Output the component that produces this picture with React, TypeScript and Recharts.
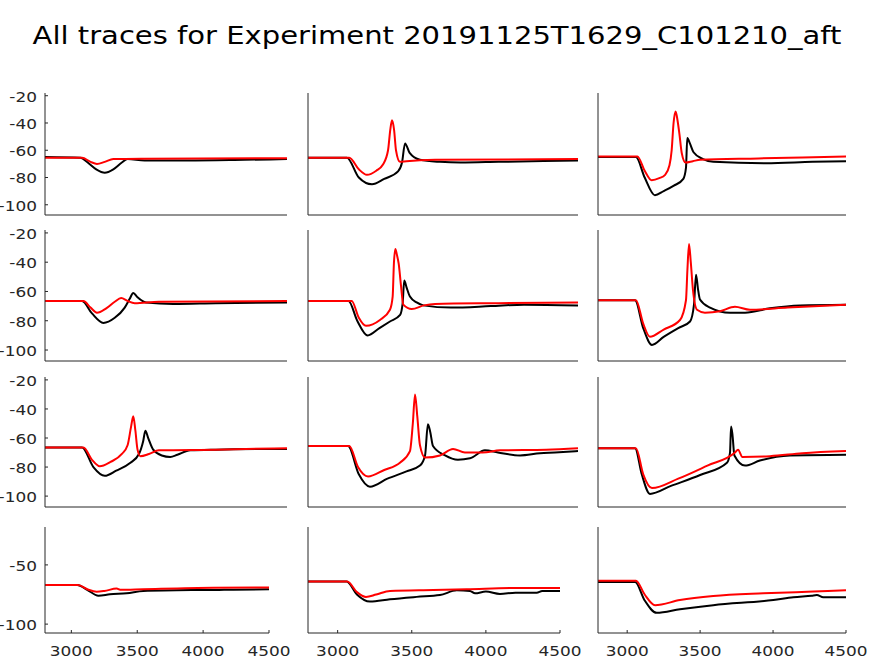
import React from 'react';
import { LineChart, Line, XAxis, YAxis } from 'recharts';

// trace samples [time, mV], one pair of arrays per subplot
const r1c1Black = [[2800, -65], [3050, -65.5], [3100, -69], [3160, -74], [3220, -76.5], [3280, -74], [3340, -69], [3380, -66.5], [3500, -67.5], [3800, -67.5], [4200, -67], [4500, -66.5]];
const r1c1Red = [[2800, -65.5], [3060, -65.5], [3120, -68.5], [3165, -70], [3220, -68.5], [3280, -66.5], [3500, -66.2], [4500, -65.8]];

const r1c2Black = [[2800, -65.5], [3045, -65.5], [3120, -80], [3203, -85], [3280, -81], [3367, -75.5], [3392, -69], [3411, -55], [3440, -62], [3505, -67], [3630, -68.5], [3760, -69], [4000, -68.5], [4500, -67.5]];
const r1c2Red = [[2800, -65.5], [3060, -65.5], [3120, -74], [3171, -78], [3230, -75], [3272, -70.5], [3304, -60], [3318, -45], [3329, -38], [3342, -45], [3354, -60], [3379, -68.5], [3420, -68], [3600, -67], [4500, -66.5]];

const r1c3Black = [[2800, -65], [3060, -65], [3120, -80], [3190, -93], [3250, -90], [3320, -86], [3385, -81], [3403, -73], [3412, -51], [3430, -55], [3455, -61.5], [3520, -66.5], [3590, -68.5], [3950, -69.5], [4270, -68.5], [4500, -68]];
const r1c3Red = [[2800, -64.5], [3070, -64.5], [3120, -75], [3168, -82], [3220, -80.5], [3260, -78], [3290, -71], [3305, -60], [3318, -40], [3332, -31.5], [3345, -38], [3358, -48], [3374, -62], [3400, -69], [3450, -68], [3500, -67], [3900, -66], [4500, -64.5]];

const r2c1Black = [[2800, -66.5], [3060, -66.5], [3130, -75], [3210, -81.5], [3290, -78], [3360, -71], [3395, -65], [3420, -61], [3450, -64], [3510, -67.5], [3700, -68.5], [4000, -68], [4500, -67.5]];
const r2c1Red = [[2800, -66.5], [3070, -66.5], [3120, -71], [3165, -74.5], [3230, -71.5], [3290, -67], [3335, -64.5], [3380, -66.5], [3430, -68], [3600, -67], [4500, -66.5]];

const r2c2Black = [[2800, -66.5], [3055, -66.5], [3110, -80], [3175, -90], [3250, -85], [3316, -80.5], [3380, -76], [3396, -68], [3406, -52.5], [3420, -57], [3442, -63.5], [3484, -67.5], [3526, -69.5], [3700, -71], [3950, -70], [4160, -69], [4500, -69.5]];
const r2c2Red = [[2800, -66.5], [3075, -66.5], [3120, -78], [3165, -83.5], [3253, -79.5], [3316, -72.5], [3333, -63.5], [3341, -40.5], [3350, -31], [3360, -35], [3371, -41], [3386, -56.5], [3400, -69], [3453, -72], [3530, -69.5], [3600, -68.5], [4000, -68], [4500, -67.5]];

const r2c3Black = [[2800, -66], [3054, -66], [3110, -85], [3170, -96.5], [3250, -91], [3350, -85], [3431, -80.5], [3458, -69], [3472, -48.5], [3485, -58], [3499, -65.5], [3568, -71], [3705, -74.5], [3808, -74.5], [3979, -71.5], [4185, -69.5], [4500, -69]];
const r2c3Red = [[2800, -66], [3060, -66], [3110, -82], [3156, -91], [3250, -86], [3362, -79.5], [3403, -66], [3413, -45], [3424, -27.5], [3436, -40], [3451, -59], [3479, -72.5], [3533, -74.5], [3636, -73.5], [3739, -70.5], [3842, -72.5], [4100, -71], [4500, -69]];

const r3c1Black = [[2800, -66.5], [3060, -66.5], [3140, -80], [3220, -86], [3300, -82.5], [3400, -77], [3460, -71], [3490, -62], [3505, -55], [3525, -60], [3560, -68], [3620, -72], [3680, -73], [3730, -71.5], [3820, -68.5], [4000, -68], [4500, -67.5]];
const r3c1Red = [[2800, -66.5], [3070, -66.5], [3130, -75], [3185, -79.5], [3260, -76.5], [3340, -71], [3380, -65], [3405, -52], [3420, -45], [3435, -55], [3450, -68], [3470, -72.5], [3530, -71], [3600, -68.5], [4000, -68], [4500, -67]];

const r3c2Black = [[2800, -65.5], [3052, -65.5], [3120, -85], [3190, -93.5], [3300, -88], [3420, -83], [3505, -79], [3537, -72], [3555, -50.5], [3570, -56], [3587, -65.5], [3663, -72], [3744, -75], [3820, -74], [3914, -68.5], [3996, -70], [4135, -72], [4261, -70.5], [4355, -70], [4500, -69]];
const r3c2Red = [[2800, -65.5], [3060, -65.5], [3115, -80], [3178, -86.5], [3280, -82], [3379, -77], [3442, -69], [3460, -50], [3474, -30], [3488, -45], [3505, -65], [3537, -73.5], [3631, -72], [3713, -67.5], [3788, -70], [3900, -70], [4009, -68.5], [4300, -68], [4500, -67]];

const r3c3Black = [[2800, -67], [3054, -67], [3100, -85], [3156, -98.5], [3300, -93], [3500, -85.5], [3684, -77], [3705, -70], [3712, -52], [3722, -58], [3735, -72], [3808, -79], [3910, -75.5], [4116, -72], [4500, -71.5]];
const r3c3Red = [[2800, -67], [3060, -67], [3110, -85], [3170, -94.5], [3350, -88], [3550, -79], [3739, -70], [3760, -68], [3790, -73], [3979, -72.5], [4200, -70.5], [4500, -69]];

const r4c1Black = [[2800, -67], [3045, -67], [3120, -71], [3205, -76], [3293, -74.8], [3420, -74], [3546, -72], [3976, -71.2], [4229, -71], [4500, -70.5]];
const r4c1Red = [[2800, -67], [3050, -67], [3130, -71], [3192, -72.6], [3250, -72], [3344, -70], [3370, -71], [3546, -70.5], [4077, -69.2], [4500, -69]];

const r4c2Black = [[2800, -64], [3061, -64], [3130, -75], [3218, -81], [3353, -79], [3533, -77], [3690, -75.5], [3803, -71.5], [3893, -72], [3927, -74], [4000, -72.5], [4095, -74.5], [4200, -73.5], [4343, -73.5], [4380, -72], [4500, -72]];
const r4c2Red = [[2800, -64], [3065, -64], [3130, -73], [3191, -77], [3260, -75], [3353, -72], [3645, -71.2], [3870, -70.6], [4208, -69.5], [4500, -69.5]];

const r4c3Black = [[2800, -64.5], [3054, -64.5], [3120, -80], [3202, -90.5], [3362, -87.5], [3590, -84], [4002, -79.7], [4139, -77.4], [4265, -76], [4300, -75.5], [4344, -77.4], [4500, -77.4]];
const r4c3Red = [[2800, -63.3], [3060, -63.3], [3120, -75], [3191, -84], [3362, -79.7], [3590, -76.3], [3933, -74], [4276, -72.5], [4500, -71.5]];

const X_TICKS = [3000, 3500, 4000, 4500];
const Y_TICKS_UPPER = [-100, -80, -60, -40, -20];
const Y_TICKS_LOWER = [-100, -50];
const X_DOMAIN = [2800, 4500];
const Y_DOMAIN = [-107.5, -18];

const TITLE = 'All traces for Experiment 20191125T1629_C101210_aft';

// subplot boxes in page pixels
const ROW_TOP = [93, 230, 377, 527];
const ROW_BOTTOM = [215, 361, 507, 633];
const COL_LEFT = [45, 308, 598];
const COL_RIGHT = [
    [287, 578, 846],
    [287, 578, 846],
    [287, 578, 846],
    [269, 560, 846],
];

const GRID = [
    [[r1c1Black, r1c1Red], [r1c2Black, r1c2Red], [r1c3Black, r1c3Red]],
    [[r2c1Black, r2c1Red], [r2c2Black, r2c2Red], [r2c3Black, r2c3Red]],
    [[r3c1Black, r3c1Red], [r3c2Black, r3c2Red], [r3c3Black, r3c3Red]],
    [[r4c1Black, r4c1Red], [r4c2Black, r4c2Red], [r4c3Black, r4c3Red]],
];

const FONT = '"DejaVu Sans", sans-serif';
const AXIS = '#262626';
const STRETCH = 1.21; // the figure text is a bit wider than the font

const toPts = (arr: number[][]) => arr.map(([t, v]) => ({ t, v }));

const YTick = (p: any) => (
    <text transform={`translate(${p.x},${p.y}) scale(${STRETCH},1)`} textAnchor="end" dy="0.42em"
        fontFamily={FONT} fontSize={14} fill={AXIS}>{p.payload.value}</text>
);

const XTick = (p: any) => (
    <text transform={`translate(${p.x},${p.y}) scale(${STRETCH},1)`} textAnchor="middle" dy="0.71em"
        fontFamily={FONT} fontSize={14} fill={AXIS}>{p.payload.value}</text>
);

const YW = 45;
const PAD = 6;

const Panel: React.FC<{ row: number; col: number }> = ({ row, col }) => {
    const left = COL_LEFT[col];
    const right = COL_RIGHT[row][col];
    const top = ROW_TOP[row];
    const bottom = ROW_BOTTOM[row];
    const xh = row === 3 ? 656 - bottom : PAD;
    const padR = row === 3 ? 30 : PAD;
    const [black, red] = GRID[row][col];
    return (
        <div style={{ position: 'absolute', left: left - YW, top: top - PAD }}>
            <LineChart width={right - left + YW + padR} height={bottom - top + PAD + xh}
                margin={{ top: PAD, right: padR, bottom: 0, left: 0 }}>
                <XAxis type="number" dataKey="t" domain={X_DOMAIN} ticks={X_TICKS} allowDataOverflow
                    interval={0} height={xh} tickSize={-3} tickMargin={16}
                    tick={row === 3 ? XTick : false} stroke={AXIS} />
                <YAxis type="number" dataKey="v" domain={Y_DOMAIN} allowDataOverflow interval={0}
                    ticks={row === 3 ? Y_TICKS_LOWER : Y_TICKS_UPPER} width={YW} tickSize={-3} tickMargin={11}
                    tick={col === 0 ? YTick : false} stroke={AXIS} />
                <Line data={toPts(black)} dataKey="v" type="monotone" stroke="#000000" strokeWidth={2}
                    dot={false} isAnimationActive={false} />
                <Line data={toPts(red)} dataKey="v" type="monotone" stroke="#ff0000" strokeWidth={2}
                    dot={false} isAnimationActive={false} />
            </LineChart>
        </div>
    );
};

export default function App() {
    return (
        <div style={{ position: 'absolute', left: 0, top: 0, width: 874, height: 656, background: '#fff', overflow: 'hidden' }}>
            <svg width={874} height={70} style={{ position: 'absolute', left: 0, top: 0 }}>
                <text transform={`translate(437,44) scale(${STRETCH},1)`} textAnchor="middle"
                    fontFamily={FONT} fontSize={24} fill="#000">{TITLE}</text>
            </svg>
            {[0, 1, 2, 3].map(r => [0, 1, 2].map(c => <Panel key={`${r}-${c}`} row={r} col={c} />))}
        </div>
    );
}
